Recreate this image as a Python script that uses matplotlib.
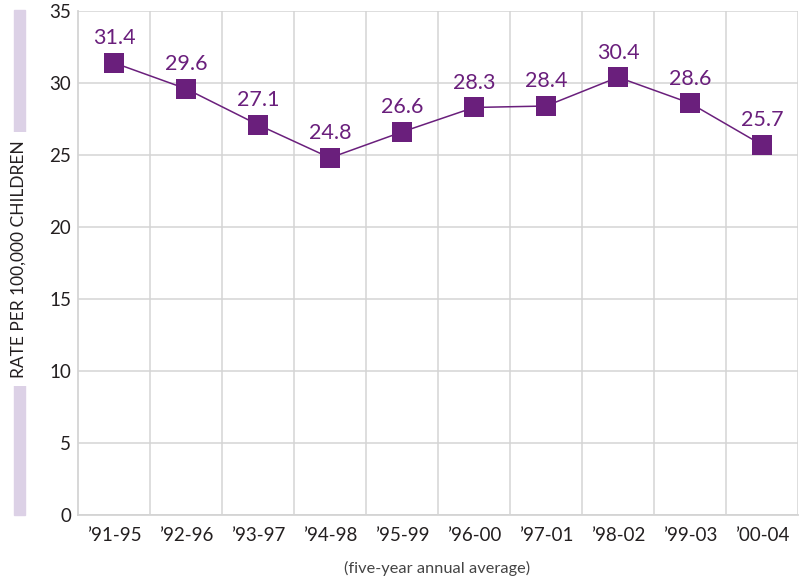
import matplotlib
matplotlib.use("Agg")
import matplotlib.pyplot as plt
from matplotlib.patches import Rectangle
from matplotlib.ticker import FixedLocator

periods = ["\u201991-95", "\u201992-96", "\u201993-97", "\u201994-98", "\u201995-99",
           "\u201996-00", "\u201997-01", "\u201998-02", "\u201999-03", "\u201900-04"]
rates = [31.4, 29.6, 27.1, 24.8, 26.6, 28.3, 28.4, 30.4, 28.6, 25.7]
yticks = [0, 5, 10, 15, 20, 25, 30, 35]

purple = "#6a1f7c"
grid_c = "#d4d4d4"
text_c = "#231f20"

plt.rcParams['font.family'] = ['Lato', 'DejaVu Sans']

fig = plt.figure(figsize=(8, 5.81), dpi=100)
ax = fig.add_axes([0.0975, 0.1136, 0.9, 0.8675])

x = list(range(len(periods)))
ax.plot(x, rates, color=purple, linewidth=1.1, marker='s', markersize=14.5,
        markeredgewidth=0, zorder=3)
for xi, v in zip(x, rates):
    ax.annotate("%.1f" % v, (xi, v), xytext=(0, 10.5), textcoords='offset points',
                ha='center', va='bottom', fontsize=15.5, color=purple)

ax.set_xlim(-0.5, 9.5)
ax.set_ylim(0, 35)
ax.set_yticks(yticks)
ax.set_xticks(x)
ax.set_xticklabels(periods)
ax.xaxis.set_minor_locator(FixedLocator([i + 0.5 for i in x]))
ax.grid(True, axis='y', which='major', color=grid_c, linewidth=1.1)
ax.grid(True, axis='x', which='minor', color=grid_c, linewidth=1.1)
ax.set_axisbelow(True)
ax.tick_params(axis='both', which='both', length=0, labelsize=13.5, colors=text_c)
ax.tick_params(axis='x', pad=9)
ax.tick_params(axis='y', pad=5)
for s in ['top', 'right']:
    ax.spines[s].set_visible(False)
for s in ['left', 'bottom']:
    ax.spines[s].set_color(grid_c)
    ax.spines[s].set_linewidth(1.3)

# lavender bar behind the y label
fig.patches.append(Rectangle((14 / 800, 1 - 515 / 581), 11 / 800, 505 / 581,
                             transform=fig.transFigure, color="#dcd1e6", zorder=0))
fig.text(19 / 800, 1 - 259 / 581, "RATE PER 100,000 CHILDREN", rotation=90,
         ha='center', va='center', fontsize=12.5, color=text_c,
         bbox=dict(facecolor='white', edgecolor='none', pad=6))
fig.text(437 / 800, 1 - 568 / 581, "(five-year annual average)", ha='center',
         va='center', fontsize=11.8, color="#444444")

fig.savefig("out.png", dpi=100)
